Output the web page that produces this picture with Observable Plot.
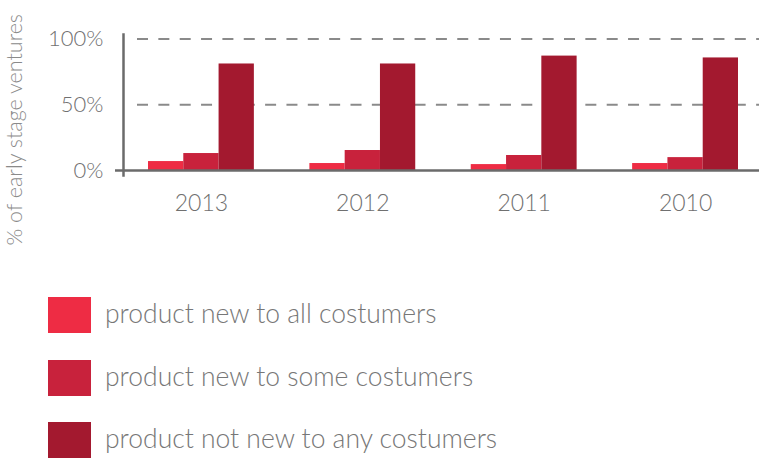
<!DOCTYPE html>
<html><head><meta charset="utf-8">
<script src="https://cdn.jsdelivr.net/npm/d3@7"></script>
<script src="https://cdn.jsdelivr.net/npm/@observablehq/plot@0.6"></script>
<style>
body{margin:0;background:#fff;font-family:Lato, "Open Sans", sans-serif;}
#chart{position:relative;width:759px;height:458px;overflow:hidden;}
#legend{position:absolute;left:48px;top:297px;}
.row{display:flex;align-items:center;height:36px;margin-bottom:26.5px;}
.sw{width:43px;height:36px;flex:none;}
.lab{margin-left:14px;font-size:26.5px;font-weight:300;color:#777;white-space:nowrap;line-height:36px;position:relative;top:-2px;}
</style></head><body><div id="chart"></div>
<script>
const years = ["2013", "2012", "2011", "2010"];
const series = ["product new to all costumers", "product new to some costumers", "product not new to any costumers"];
const newToAll = [6.8, 5.3, 4.5, 5.3];
const newToSome = [12.9, 15.2, 11.4, 9.8];
const notNewToAny = [81, 81, 87, 85.6];
const colors = ["#ee2c44", "#c8223c", "#a3192f"];
const yTicks = [0, 50, 100];
const yTitle = "% of early stage ventures";

const values = [newToAll, newToSome, notNewToAny];
const rowsFor = j => years.map((yr, i) => ({year: yr, series: series[j], value: values[j][i]}));

const W = 759, H = 260, ML = 148, MR = 21, PAD = 0.344;
const step = (W - ML - MR) / (years.length - PAD);
const bw = step * (1 - PAD);
const sub = bw / series.length;

const plot = Plot.plot({
  width: W, height: H,
  marginLeft: ML, marginRight: MR, marginTop: 38.5, marginBottom: 90,
  style: {color: "#777", fontFamily: "Lato, sans-serif", fontWeight: 300, background: "transparent"},
  x: {domain: years, paddingInner: PAD, paddingOuter: 0, round: false},
  y: {domain: [0, 100]},
  color: {domain: series, range: colors},
  marks: [
    Plot.ruleY(yTicks.filter(d => d > 0), {insetLeft: -11, insetRight: -21, stroke: "#8a8a8a", strokeWidth: 2, strokeDasharray: "11,10.35"}),
    ...series.map((s, j) => Plot.barY(rowsFor(j), {x: "year", y: "value", fill: "series", insetLeft: sub * j, insetRight: sub * (series.length - 1 - j)})),
    Plot.ruleY([0], {insetLeft: -33, insetRight: -21, stroke: "#6b6b6b", strokeWidth: 2.5}),
    Plot.frame({anchor: "left", insetLeft: -25, insetTop: -4.5, insetBottom: -5, stroke: "#6b6b6b", strokeWidth: 2.5}),
    Plot.axisX({tickSize: 0, tickPadding: 24, fontSize: 23, fill: "#707070", label: null}),
    Plot.axisY(yTicks, {tickSize: 0, tickPadding: 45, fontSize: 22, fill: "#707070", label: null, tickFormat: d => d + "%"}),
    Plot.text([yTitle], {text: d => d, frameAnchor: "left", textAnchor: "middle", dx: -133, dy: 25, rotate: -90, fontSize: 21.5, fill: "#8a8a8a"})
  ]
});
const chart = document.getElementById("chart");
chart.appendChild(plot);
const legend = document.createElement("div");
legend.id = "legend";
series.forEach((s, j) => {
  const row = document.createElement("div");
  row.className = "row";
  const sw = document.createElement("div");
  sw.className = "sw";
  sw.style.background = colors[j];
  const lab = document.createElement("span");
  lab.className = "lab";
  lab.textContent = s;
  row.appendChild(sw); row.appendChild(lab);
  legend.appendChild(row);
});
chart.appendChild(legend);
</script></body></html>
